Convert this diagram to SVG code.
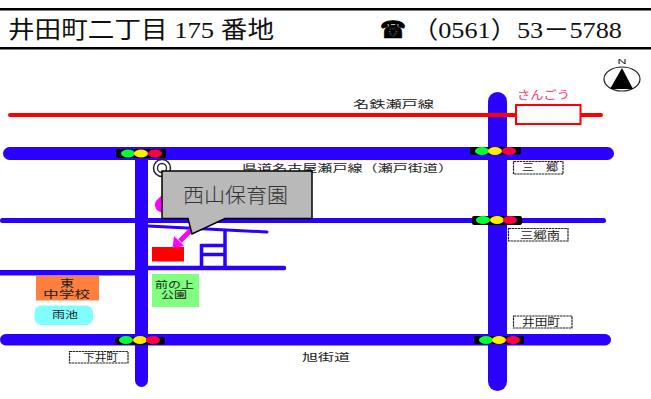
<svg xmlns="http://www.w3.org/2000/svg" width="651" height="399" viewBox="0 0 651 399">
<style>
text{font-family:"Noto Sans CJK JP","Liberation Sans",sans-serif;fill:#222;font-size:10px}
.hd{font-family:"Liberation Serif","Noto Sans CJK JP",serif;font-size:24px;fill:#111}
.lb{fill:#fff;stroke:#222;stroke-width:1.200;stroke-dasharray:2.500 .6}
.rd{fill:#2a00ff}
.ln{stroke:#2a00ff;fill:none}
.blk{fill:#000}
.g{fill:#00ff33}.y{fill:#ffee00}.r{fill:#ff0044}
ellipse.g,ellipse.y,ellipse.r{rx:7px;ry:4px}
</style>
<rect width="651" height="399" fill="#fff"/>
<g id="header">
<rect x="0" y="8" width="651" height="2.500" fill="#000"/>
<rect x="0" y="47" width="651" height="2.500" fill="#000"/>
<text class="hd" x="8" y="38" textLength="266" lengthAdjust="spacingAndGlyphs">井田町二丁目 175 番地</text>
<text x="380" y="38" textLength="26" lengthAdjust="spacingAndGlyphs" stroke="#000" stroke-width=".7" style="font-family:'DejaVu Sans',sans-serif;font-size:24px;fill:#000">☎</text>
<text class="hd" x="412" y="38" textLength="210" lengthAdjust="spacingAndGlyphs">（0561）53－5788</text>
</g>
<g id="roads">
<rect class="rd" x="488" y="92" width="19" height="299" rx="9.500"/>
<rect class="rd" x="135" y="150" width="13" height="237" rx="6.500"/>
<rect class="rd" x="3" y="147" width="611" height="13" rx="6.500"/>
<rect class="rd" x="0" y="218" width="606" height="5" rx="2.500"/>
<rect class="rd" x="0" y="334" width="611" height="11.500" rx="5.700"/>
<rect class="rd" x="0" y="270" width="136" height="5.500"/>
<path class="ln" d="M148 226L267 232" stroke-width="3" stroke-linecap="round"/>
<path class="ln" d="M225 231V268M201.500 244V268M201 245.500H225M201 254.500H225" stroke-width="3.500"/>
<path class="ln" d="M148 268H284" stroke-width="4.500" stroke-linecap="round"/>
</g>
<g id="railway">
<path d="M10 115H601" stroke="#ff0000" stroke-width="4" stroke-linecap="round"/>
<rect x="516" y="105" width="64.500" height="19" fill="#fcfcfc" stroke="#ff0000" stroke-width="2"/>
<text x="517" y="99" textLength="53" lengthAdjust="spacingAndGlyphs" style="fill:#ff3366;font-size:11px">さんごう</text>
<text x="353" y="108" textLength="81" lengthAdjust="spacingAndGlyphs" style="font-size:10.500px">名鉄瀬戸線</text>
</g>
<g id="signals">
<g id="signal-1"><rect class="blk" x="116" y="149" width="50" height="9" rx="2"/><ellipse class="g" cx="128" cy="153.500"/><ellipse class="y" cx="141" cy="153.500"/><ellipse class="r" cx="155" cy="153.500"/></g>
<g id="signal-2"><rect class="blk" x="470" y="147" width="51" height="7.500" rx="2"/><ellipse class="g" cx="482" cy="151"/><ellipse class="y" cx="495" cy="151"/><ellipse class="r" cx="509" cy="151"/></g>
<g id="signal-3"><rect class="blk" x="472" y="216" width="50" height="9" rx="2"/><ellipse class="g" cx="483" cy="220"/><ellipse class="y" cx="497" cy="220"/><ellipse class="r" cx="510" cy="220"/></g>
<g id="signal-4"><rect class="blk" x="115" y="337" width="50" height="7.500" rx="2"/><ellipse class="g" cx="126" cy="340"/><ellipse class="y" cx="140" cy="340"/><ellipse class="r" cx="153" cy="340"/></g>
<g id="signal-5"><rect class="blk" x="474" y="336" width="50" height="8" rx="2"/><ellipse class="g" cx="486" cy="340"/><ellipse class="y" cx="499" cy="340"/><ellipse class="r" cx="513" cy="340"/></g>
</g>
<g id="north">
<text x="617.500" y="64" textLength="9" lengthAdjust="spacingAndGlyphs" style="font-family:'Liberation Sans',sans-serif;font-size:7px">N</text>
<ellipse cx="622" cy="79" rx="18" ry="12" fill="#fff" stroke="#222" stroke-width="1.200"/>
<path d="M622 68L610 89H633Z" fill="#000"/>
</g>
<g id="route-labels">
<text x="242" y="172" textLength="211" lengthAdjust="spacingAndGlyphs" style="font-size:10.500px">県道名古屋瀬戸線（瀬戸街道）</text>
<text x="302" y="361" textLength="48" lengthAdjust="spacingAndGlyphs" style="font-size:10.500px">旭街道</text>
</g>
<g id="label-sango"><rect class="lb" x="513.500" y="161.500" width="49.500" height="12.500"/><text x="522" y="171" textLength="36" lengthAdjust="spacingAndGlyphs">三　郷</text></g>
<g id="label-sangominami"><rect class="lb" x="508.500" y="228.500" width="59.500" height="12.500"/><text x="520" y="238.500" textLength="40" lengthAdjust="spacingAndGlyphs">三郷南</text></g>
<g id="label-idacho"><rect class="lb" x="513.500" y="316" width="58.500" height="12"/><text x="522" y="326" textLength="38" lengthAdjust="spacingAndGlyphs">井田町</text></g>
<g id="label-shimoicho"><rect class="lb" x="69.500" y="351.500" width="58.500" height="11.500"/><text x="83" y="360.500" textLength="35" lengthAdjust="spacingAndGlyphs">下井町</text></g>
<g id="junior-high"><rect x="36" y="276" width="63" height="24.500" fill="#ff7f3f"/><text x="60" y="286.500" textLength="14" lengthAdjust="spacingAndGlyphs" style="font-size:10.500px">東</text><text x="43" y="298" textLength="47" lengthAdjust="spacingAndGlyphs" style="font-size:10.500px">中学校</text></g>
<g id="park"><rect x="152" y="274" width="47" height="33" fill="#80ff80"/><text x="155" y="288" textLength="39" lengthAdjust="spacingAndGlyphs" style="font-size:9.500px">前の上</text><text x="161" y="297.800" textLength="26" lengthAdjust="spacingAndGlyphs" style="font-size:9.500px">公園</text></g>
<g id="pond"><rect x="34.500" y="305.500" width="58.500" height="19.500" rx="7" fill="#80ffff"/><text x="52" y="318" textLength="26" lengthAdjust="spacingAndGlyphs" style="font-size:9.500px">雨池</text></g>
<g id="destination">
<rect x="152" y="247" width="32" height="14.500" fill="#ff0000"/>
<path d="M162 195L156 201Q153 206 158 211L163 213Z" fill="#ff00ff"/>
<path d="M191 230L180 241" stroke="#ff00ff" stroke-width="5" fill="none"/>
<path d="M172.500 248L174 236L184 246Z" fill="#ff00ff"/>
</g>
<g id="marker"><circle cx="162" cy="168" r="8.500" fill="#fff" stroke="#222" stroke-width="1.500"/><circle cx="162" cy="168" r="4.500" fill="none" stroke="#222" stroke-width="1.300"/></g>
<g id="callout">
<path d="M162 171H312V218.500H225L192 234L188 218.500H162Z" fill="#b9b9b9" stroke="#000" stroke-width="1.500"/>
<text x="183" y="203" textLength="105" lengthAdjust="spacingAndGlyphs" style="font-size:20px;fill:#333;font-weight:300">西山保育園</text>
</g>
</svg>
